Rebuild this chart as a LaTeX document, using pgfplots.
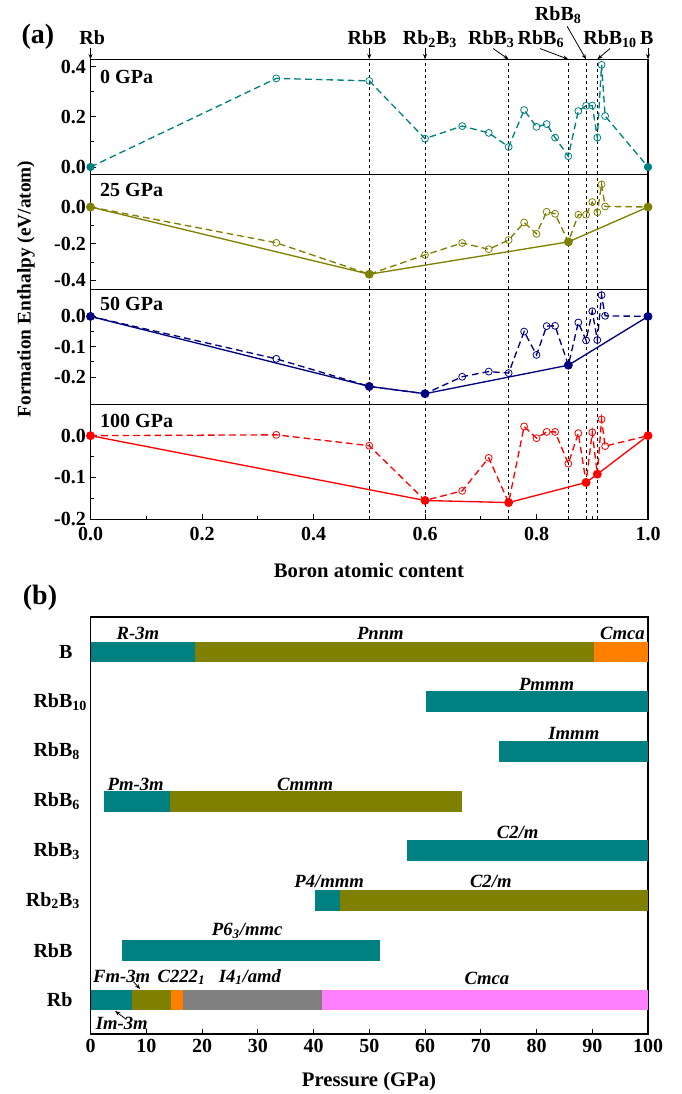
\documentclass[border=0pt]{standalone}
\usepackage{pgfplots}
\pgfplotsset{compat=1.18}
\usepackage{fontspec}
\setmainfont{Liberation Serif}
\usetikzlibrary{arrows.meta}

\definecolor{cteal}{RGB}{0,128,128}
\definecolor{colive}{RGB}{128,128,0}
\definecolor{cnavy}{RGB}{0,0,128}
\definecolor{cred}{RGB}{255,0,0}
\definecolor{corange}{RGB}{255,128,0}
\definecolor{cgray}{RGB}{128,128,128}
\definecolor{cmag}{RGB}{255,128,255}

\newcommand{\lf}{\bfseries\fontsize{15}{17}\selectfont}

\tikzset{
  gp/.style={anchor=north west, inner sep=0pt, font=\lf},
  lb/.style={anchor=base, inner sep=0pt, font=\bfseries\itshape\fontsize{14}{16}\selectfont},
  ar/.style={-{Stealth[length=4pt,width=3pt]}, line width=0.6pt, black},
  cl/.style={anchor=base, inner sep=0pt, font=\lf},
}
\pgfplotsset{
  pa/.style={
    scale only axis, width=418.125pt, height=86.25pt,
    xmin=0, xmax=1, anchor=north west, clip=false,
    axis line style={line width=0.8pt},
    tick align=inside, ytick pos=left, xtick pos=bottom,
    minor y tick num=1,
    major tick length=4pt, minor tick length=2.5pt,
    tick style={black, line width=0.7pt},
    tick label style={font=\lf},
    yticklabel style={/pgf/number format/.cd, fixed, fixed zerofill, precision=1, assume math mode=true},
    xtick=\empty,
  },
  refl/.style={black, line width=0.5pt, dash pattern=on 2.5pt off 2pt, forget plot},
  dl/.style={line width=1pt, dash pattern=on 5pt off 3pt, mark=o, mark size=2.6pt,
     mark options={solid, fill=white, line width=0.6pt}},
  hl/.style={line width=1pt, solid, mark=*, mark size=2.8pt},
}

\begin{document}
\begin{tikzpicture}
\useasboundingbox (0,0) rectangle (510.75pt,-820.5pt);

% ---------- Panel 1 : 0 GPa ----------
\begin{axis}[pa, at={(67.875pt,-44.475pt)}, ymin=-0.029, ymax=0.429, ytick={0,0.2,0.4}]
\pgfplotsinvokeforeach{0.5,0.6,0.75,0.8571,0.8889,0.9091}{\addplot[refl] coordinates {(#1,-0.029) (#1,0.429)};}
\addplot[dl, cteal] coordinates {
(0,0) (0.3333,0.353) (0.5,0.343) (0.6,0.113) (0.6667,0.163) (0.7143,0.136) (0.75,0.080)
(0.7778,0.227) (0.8,0.160) (0.8182,0.171) (0.8333,0.117) (0.8571,0.043) (0.875,0.223)
(0.8889,0.244) (0.9,0.245) (0.9091,0.117) (0.9167,0.407) (0.9231,0.203) (1,0)};
\addplot[only marks, mark=*, mark size=2.8pt, cteal] coordinates {(0,0) (1,0)};
\node[gp] at (rel axis cs:0.017,0.91) {0 GPa};
% composition labels
\node[cl] at (axis cs:0.003,0.487) {Rb};
\draw[ar] (axis cs:0,0.475) -- (axis cs:0,0.429);
\node[cl] at (axis cs:0.496,0.487) {RbB};
\draw[ar] (axis cs:0.5,0.475) -- (axis cs:0.5,0.429);
\node[cl] at (axis cs:0.609,0.487) {Rb\textsubscript{2}B\textsubscript{3}};
\draw[ar] (axis cs:0.6,0.475) -- (axis cs:0.6,0.429);
\node[cl] at (axis cs:0.719,0.487) {RbB\textsubscript{3}};
\draw[ar] (axis cs:0.722,0.472) -- (axis cs:0.75,0.429);
\node[cl] at (axis cs:0.808,0.487) {RbB\textsubscript{6}};
\draw[ar] (axis cs:0.806,0.472) -- (axis cs:0.8571,0.429);
\node[cl] at (axis cs:0.839,0.585) {RbB\textsubscript{8}};
\draw[ar] (axis cs:0.855,0.56) -- (axis cs:0.8889,0.429);
\node[cl] at (axis cs:0.932,0.487) {RbB\textsubscript{10}};
\draw[ar] (axis cs:0.932,0.472) -- (axis cs:0.9091,0.429);
\node[cl] at (axis cs:0.998,0.487) {B};
\draw[ar] (axis cs:1,0.475) -- (axis cs:1,0.429);
\end{axis}

% ---------- Panel 2 : 25 GPa ----------
\begin{axis}[pa, at={(67.875pt,-130.725pt)}, ymin=-0.448, ymax=0.178, ytick={-0.4,-0.2,0}]
\pgfplotsinvokeforeach{0.5,0.6,0.75,0.8571,0.8889,0.9091}{\addplot[refl] coordinates {(#1,-0.448) (#1,0.178)};}
\addplot[dl, colive] coordinates {
(0,0) (0.3333,-0.195) (0.5,-0.366) (0.6,-0.261) (0.6667,-0.196) (0.7143,-0.230) (0.75,-0.180)
(0.7778,-0.084) (0.8,-0.146) (0.8182,-0.026) (0.8333,-0.037) (0.8571,-0.190) (0.875,-0.042)
(0.8889,-0.042) (0.9,0.027) (0.9091,-0.029) (0.9167,0.123) (0.9231,0.003) (1,0)};
\addplot[hl, colive] coordinates {(0,0) (0.5,-0.366) (0.8571,-0.190) (1,0)};
\node[gp] at (rel axis cs:0.017,0.925) {25 GPa};
\end{axis}

% ---------- Panel 3 : 50 GPa ----------
\begin{axis}[pa, at={(67.875pt,-216.975pt)}, ymin=-0.29, ymax=0.0895, ytick={-0.2,-0.1,0}]
\pgfplotsinvokeforeach{0.5,0.6,0.75,0.8571,0.8889,0.9091}{\addplot[refl] coordinates {(#1,-0.29) (#1,0.0895)};}
\addplot[dl, cnavy] coordinates {
(0,0) (0.3333,-0.140) (0.5,-0.231) (0.6,-0.255) (0.6667,-0.199) (0.7143,-0.182) (0.75,-0.187)
(0.7778,-0.050) (0.8,-0.127) (0.8182,-0.032) (0.8333,-0.031) (0.8571,-0.161) (0.875,-0.020)
(0.8889,-0.079) (0.9,0.017) (0.9091,-0.078) (0.9167,0.070) (0.9231,0.002) (1,0)};
\addplot[hl, cnavy] coordinates {(0,0) (0.5,-0.231) (0.6,-0.255) (0.8571,-0.161) (1,0)};
\node[gp] at (rel axis cs:0.017,0.93) {50 GPa};
\end{axis}

% ---------- Panel 4 : 100 GPa ----------
\begin{axis}[pa, at={(67.875pt,-303.225pt)}, ymin=-0.2, ymax=0.075, ytick={-0.2,-0.1,0},
  xtick={0,0.2,0.4,0.6,0.8,1}, minor x tick num=1,
  xticklabel style={yshift=-2.5pt, /pgf/number format/.cd, fixed, fixed zerofill, precision=1, assume math mode=true}]
\pgfplotsinvokeforeach{0.5,0.6,0.75,0.8571,0.8889,0.9091}{\addplot[refl] coordinates {(#1,-0.2) (#1,0.075)};}
\addplot[dl, cred] coordinates {
(0,0) (0.3333,0.002) (0.5,-0.024) (0.6,-0.155) (0.6667,-0.132) (0.7143,-0.053) (0.75,-0.160)
(0.7778,0.022) (0.8,-0.006) (0.8182,0.009) (0.8333,0.009) (0.8571,-0.067) (0.875,0.006)
(0.8889,-0.112) (0.9,0.008) (0.9091,-0.092) (0.9167,0.039) (0.9231,-0.025) (1,0)};
\addplot[hl, cred] coordinates {(0,0) (0.6,-0.155) (0.75,-0.160) (0.8889,-0.112) (0.9091,-0.092) (1,0)};
\node[gp] at (rel axis cs:0.017,0.915) {100 GPa};
\end{axis}

% ---------- Panel b ----------
\begin{axis}[scale only axis, width=418.125pt, height=312.75pt, at={(67.875pt,-462.75pt)}, anchor=north west,
  xmin=0, xmax=100, ymin=-0.684, ymax=7.704, clip=false,
  axis line style={line width=0.8pt},
  xtick={0,10,...,100}, ytick={0,...,7},
  yticklabels={Rb, RbB, Rb\textsubscript{2}B\rlap{\textsubscript{3}}, RbB\rlap{\textsubscript{3}}, RbB\rlap{\textsubscript{6}}, RbB\rlap{\textsubscript{8}}, RbB\rlap{\textsubscript{10}}, B},
  tick align=inside, xtick pos=bottom, ytick pos=left,
  major tick length=4pt, tick style={black, line width=0.7pt},
  y tick style={draw=none},
  xticklabel style={font=\lf, /pgf/number format/assume math mode=true},
  yticklabel style={font=\lf, xshift=-10pt}]
% B
\addplot[fill=cteal, draw=none] coordinates {(0,6.79) (18.7,6.79) (18.7,7.21) (0,7.21)} -- cycle;
\addplot[fill=colive, draw=none] coordinates {(18.7,6.79) (90.4,6.79) (90.4,7.21) (18.7,7.21)} -- cycle;
\addplot[fill=corange, draw=none] coordinates {(90.4,6.79) (100,6.79) (100,7.21) (90.4,7.21)} -- cycle;
% RbB10
\addplot[fill=cteal, draw=none] coordinates {(60.2,5.79) (100,5.79) (100,6.21) (60.2,6.21)} -- cycle;
% RbB8
\addplot[fill=cteal, draw=none] coordinates {(73.3,4.79) (100,4.79) (100,5.21) (73.3,5.21)} -- cycle;
% RbB6
\addplot[fill=cteal, draw=none] coordinates {(2.4,3.79) (14.2,3.79) (14.2,4.21) (2.4,4.21)} -- cycle;
\addplot[fill=colive, draw=none] coordinates {(14.2,3.79) (66.6,3.79) (66.6,4.21) (14.2,4.21)} -- cycle;
% RbB3
\addplot[fill=cteal, draw=none] coordinates {(56.7,2.79) (100,2.79) (100,3.21) (56.7,3.21)} -- cycle;
% Rb2B3
\addplot[fill=cteal, draw=none] coordinates {(40.2,1.79) (44.7,1.79) (44.7,2.21) (40.2,2.21)} -- cycle;
\addplot[fill=colive, draw=none] coordinates {(44.7,1.79) (100,1.79) (100,2.21) (44.7,2.21)} -- cycle;
% RbB
\addplot[fill=cteal, draw=none] coordinates {(5.65,0.79) (51.9,0.79) (51.9,1.21) (5.65,1.21)} -- cycle;
% Rb
\addplot[fill=cteal, draw=none] coordinates {(0,-0.21) (7.4,-0.21) (7.4,0.21) (0,0.21)} -- cycle;
\addplot[fill=colive, draw=none] coordinates {(7.4,-0.21) (14.4,-0.21) (14.4,0.21) (7.4,0.21)} -- cycle;
\addplot[fill=corange, draw=none] coordinates {(14.4,-0.21) (16.6,-0.21) (16.6,0.21) (14.4,0.21)} -- cycle;
\addplot[fill=cgray, draw=none] coordinates {(16.6,-0.21) (41.6,-0.21) (41.6,0.21) (16.6,0.21)} -- cycle;
\addplot[fill=cmag, draw=none] coordinates {(41.6,-0.21) (100,-0.21) (100,0.21) (41.6,0.21)} -- cycle;
% labels
\node[lb] at (axis cs:8.5,7.26) {R-3m};
\node[lb] at (axis cs:52,7.26) {Pnnm};
\node[lb] at (axis cs:95.4,7.26) {Cmca};
\node[lb] at (axis cs:81.8,6.23) {Pmmm};
\node[lb] at (axis cs:86.7,5.24) {Immm};
\node[lb] at (axis cs:8.1,4.22) {Pm-3m};
\node[lb] at (axis cs:38.5,4.22) {Cmmm};
\node[lb] at (axis cs:76.6,3.24) {C2/m};
\node[lb] at (axis cs:42.8,2.26) {P4/mmm};
\node[lb] at (axis cs:71.8,2.26) {C2/m};
\node[lb] at (axis cs:28.1,1.30) {P6\textsubscript{3}/mmc};
\node[lb] at (axis cs:5.6,0.36) {Fm-3m};
\node[lb] at (axis cs:16.3,0.36) {C222\textsubscript{1}};
\node[lb] at (axis cs:28.6,0.36) {I4\textsubscript{1}/amd};
\node[lb] at (axis cs:71.1,0.31) {Cmca};
\node[lb] at (axis cs:5.6,-0.60) {Im-3m};
\draw[ar] (axis cs:6.3,-0.38) -- (axis cs:4.4,-0.22);
\draw[ar] (axis cs:7.7,0.37) -- (axis cs:8.9,0.22);
\end{axis}

% titles
\node[font=\bfseries\fontsize{21}{24}\selectfont] at (28.5pt,-27.75pt) {(a)};
\node[font=\bfseries\fontsize{21}{24}\selectfont] at (30pt,-448.5pt) {(b)};
\node[font=\bfseries\fontsize{14.5}{17}\selectfont, rotate=90] at (19.5pt,-216.75pt) {Formation Enthalpy (eV/atom)};
\node[font=\bfseries\fontsize{15.5}{18}\selectfont] at (276.75pt,-427.5pt) {Boron atomic content};
\node[font=\bfseries\fontsize{15.5}{18}\selectfont] at (276.75pt,-811.5pt) {Pressure (GPa)};
\end{tikzpicture}
\end{document}
